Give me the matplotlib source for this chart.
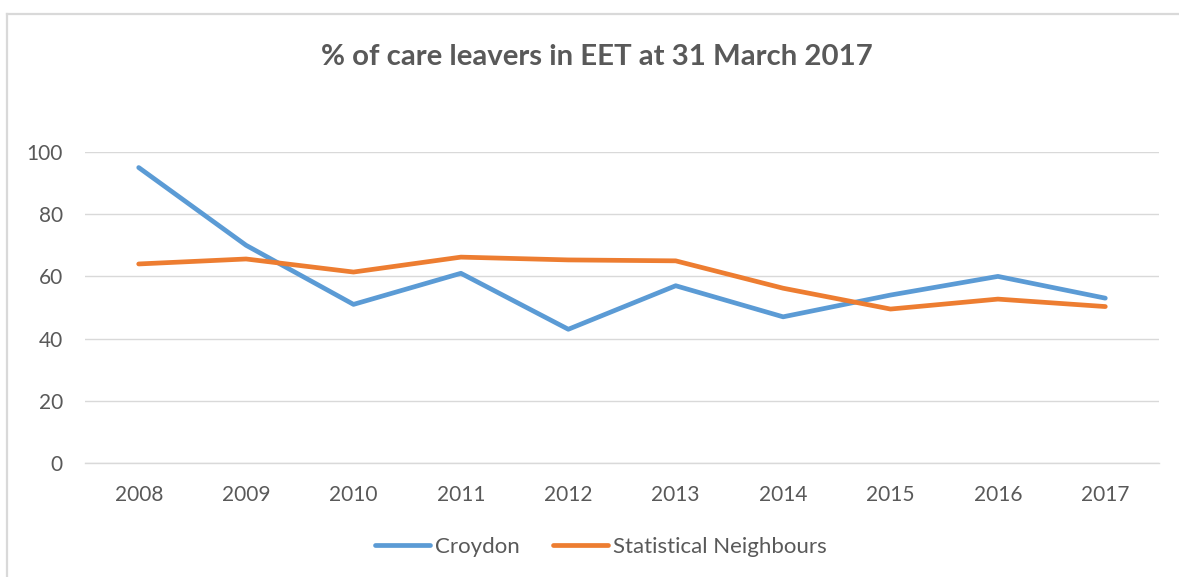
import matplotlib.pyplot as plt
from matplotlib.lines import Line2D

# данные графика
years = ['2008', '2009', '2010', '2011', '2012', '2013', '2014', '2015', '2016', '2017']
croydon = [95, 70, 51, 61, 43, 57, 47, 54, 60, 53]
neighbours = [64, 65.6, 61.4, 66.2, 65.3, 65, 56.2, 49.5, 52.7, 50.3]
yticks = [0, 20, 40, 60, 80, 100]

title = '% of care leavers in EET at 31 March 2017'
font = ['Lato', 'DejaVu Sans']
text_color = '#595959'
grid_color = '#d9d9d9'

plt.rcParams['font.family'] = font

fig = plt.figure(figsize=(11.79, 5.77), dpi=100)
W, H = 1179, 577

# рамка диаграммы (уходит за правый и нижний край)
fig.add_artist(Line2D([6.5 / W, 6.5 / W], [0, 1 - 14 / H], transform=fig.transFigure,
                      color=grid_color, lw=1.6))
fig.add_artist(Line2D([6.5 / W, 1], [1 - 14 / H, 1 - 14 / H], transform=fig.transFigure,
                      color=grid_color, lw=1.6))

ax = fig.add_axes([85 / W, 1 - 463 / H, (1159 - 85) / W, (463 - 152) / H])
x = range(len(years))
ax.plot(x, croydon, color='#5b9bd5', lw=3.4, solid_capstyle='round', label='Croydon')
ax.plot(x, neighbours, color='#ed7d31', lw=3.4, solid_capstyle='round',
        label='Statistical Neighbours')

ax.set_xlim(-0.5, len(years) - 0.5)
ax.set_ylim(0, 100)
ax.set_yticks(yticks)
ax.set_xticks(list(x))
ax.set_xticklabels(years)
ax.yaxis.grid(True, color=grid_color, lw=1.0)
ax.set_axisbelow(True)
for s in ['top', 'right', 'left']:
    ax.spines[s].set_visible(False)
ax.spines['bottom'].set_color(grid_color)
ax.spines['bottom'].set_linewidth(1.0)
ax.tick_params(axis='both', length=0, labelsize=15, colors=text_color)
ax.tick_params(axis='y', pad=16)
ax.tick_params(axis='x', pad=16)

fig.text(597 / W, 1 - 57 / H, title, ha='center', va='center', fontsize=21.2,
         fontweight='bold', color=text_color)

fig.legend(loc='center', bbox_to_anchor=(601 / W, 1 - 547 / H), ncol=2, frameon=False,
           fontsize=16, labelcolor=text_color, handlelength=2.45, handletextpad=0.25,
           columnspacing=1.5)

fig.savefig('out.png', dpi=100)
